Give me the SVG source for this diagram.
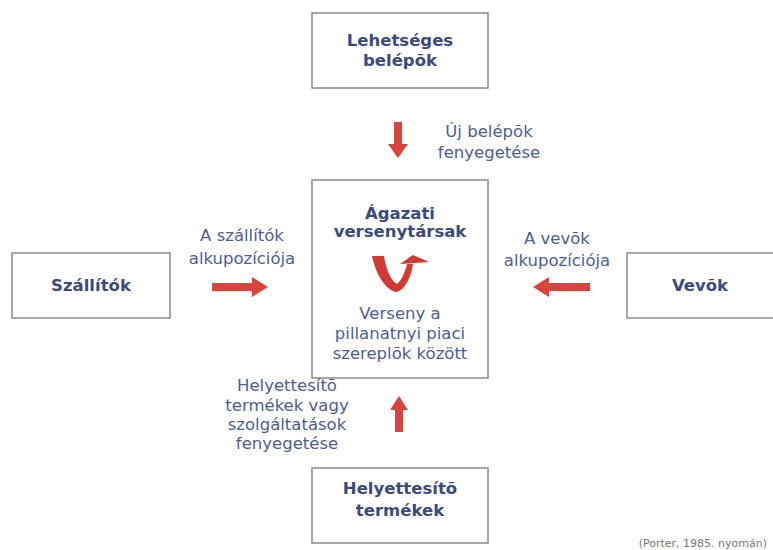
<svg xmlns="http://www.w3.org/2000/svg" width="773" height="550" viewBox="0 0 773 550">
<style>
.box{fill:#fff;stroke:#8a8a8a;stroke-width:1.5}
.b{font-family:"DejaVu Sans",Verdana,sans-serif;font-weight:bold;font-size:16.5px;fill:#3d4a7a;text-anchor:middle}
.t{font-family:"DejaVu Sans",Verdana,sans-serif;font-size:16.5px;fill:#4f5d8c;text-anchor:middle}
.arr{fill:#d8453d}
.note{font-family:"DejaVu Sans",Verdana,sans-serif;font-size:11px;fill:#777;text-anchor:end}
</style>
<rect width="773" height="550" fill="#fff"/>
<g id="lehetseges">
<rect class="box" x="312" y="13" width="176" height="75"/>
<text class="b" x="400" y="46">Lehetséges</text>
<text class="b" x="400" y="66">belépõk</text>
</g>
<g id="agazati">
<rect class="box" x="312" y="180" width="176" height="198"/>
<text class="b" x="400" y="219">Ágazati</text>
<text class="b" x="400" y="237">versenytársak</text>
<path d="M372,256 L384,256 C386,268 390,280 397,284 C402,280 405,272 407,264 L413,264 C411,278 404,291 396,292 C385,290 375,272 372,256 Z" fill="#d23b33"/>
<path d="M400,264 L413,255 L429,262 Z" fill="#d23b33"/>
<text class="t" x="400" y="319">Verseny a</text>
<text class="t" x="400" y="339">pillanatnyi piaci</text>
<text class="t" x="400" y="359">szereplõk között</text>
</g>
<g id="szallitok">
<rect class="box" x="12" y="253" width="158" height="65"/>
<text class="b" x="91" y="291">Szállítók</text>
</g>
<g id="vevok">
<rect class="box" x="627" y="253" width="160" height="65"/>
<text class="b" x="700" y="291">Vevõk</text>
</g>
<g id="helyettesito">
<rect class="box" x="312" y="468" width="176" height="75"/>
<text class="b" x="400" y="494">Helyettesítõ</text>
<text class="b" x="400" y="516">termékek</text>
</g>
<g id="connectors">
<path class="arr" d="M394,122 H402 V144 H408 L398,158 L388,144 H394 Z"/>
<path class="arr" d="M212,283 H252 V277 L268,287 L252,297 V291 H212 Z"/>
<path class="arr" d="M590,283 H549 V277 L533,287 L549,297 V291 H590 Z"/>
<path class="arr" d="M395,432 V410 H390 L399,396 L408,410 H403 V432 Z"/>
</g>
<g id="labels">
<text class="t" x="489" y="137">Új belépõk</text>
<text class="t" x="489" y="158">fenyegetése</text>
<text class="t" x="242" y="241">A szállítók</text>
<text class="t" x="242" y="264">alkupozíciója</text>
<text class="t" x="557" y="244">A vevõk</text>
<text class="t" x="557" y="266">alkupozíciója</text>
<text class="t" x="287" y="391">Helyettesítõ</text>
<text class="t" x="287" y="411">termékek vagy</text>
<text class="t" x="287" y="430">szolgáltatások</text>
<text class="t" x="287" y="449">fenyegetése</text>
<text class="note" x="767" y="547">(Porter, 1985. nyomán)</text>
</g>
</svg>
